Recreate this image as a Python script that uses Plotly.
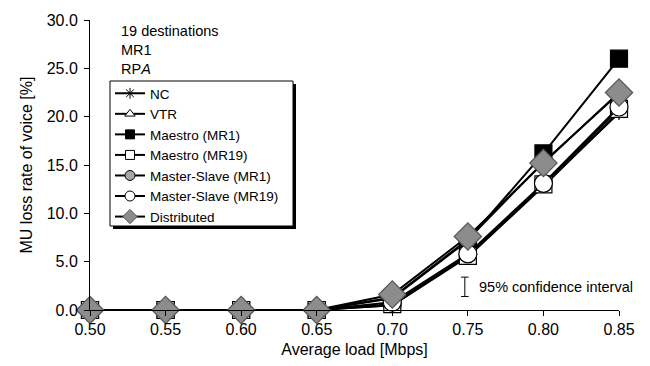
import plotly.graph_objects as go

load = [0.50, 0.55, 0.60, 0.65, 0.70, 0.75, 0.80, 0.85]
nc = [0, 0, 0, 0, 0.5, 5.6, 12.9, 20.4]
vtr = [0, 0, 0, 0, 0.5, 5.5, 12.8, 20.5]
maestro_mr1 = [0, 0, 0, 0, 1.2, 7.2, 16.2, 26.0]
maestro_mr19 = [0, 0, 0, 0, 0.6, 5.6, 13.0, 20.8]
ms_mr1 = [0, 0, 0, 0, 1.3, 7.3, 15.3, 22.4]
ms_mr19 = [0, 0, 0, 0, 0.8, 5.8, 13.1, 21.0]
distributed = [0, 0, 0, 0, 1.6, 7.6, 15.2, 22.5]

x_ticks = [0.50, 0.55, 0.60, 0.65, 0.70, 0.75, 0.80, 0.85]
y_ticks = [0, 5, 10, 15, 20, 25, 30]

FONT = "Liberation Sans, Arial, sans-serif"

# name, values, symbol, fill, edge, plot size, legend size
series = [
    ("NC", nc, "asterisk-open", "black", "black", 12, 9),
    ("VTR", vtr, "triangle-up", "white", "black", 14, 9),
    ("Maestro (MR1)", maestro_mr1, "square", "black", "black", 17, 9),
    ("Maestro (MR19)", maestro_mr19, "square", "white", "black", 17, 9),
    ("Master-Slave (MR1)", ms_mr1, "circle", "#a6a6a6", "black", 18, 10),
    ("Master-Slave (MR19)", ms_mr19, "circle", "white", "black", 18, 10),
    ("Distributed", distributed, "diamond", "#8c8c8c", "#555555", 21, 11),
]

fig = go.Figure()
for name, vals, sym, fill, edge, size, lsize in series:
    fig.add_trace(go.Scatter(
        x=load, y=vals, name=name, mode="lines+markers", showlegend=False,
        line=dict(color="black", width=2),
        marker=dict(symbol=sym, size=size, color=fill, line=dict(color=edge, width=1.2)),
        cliponaxis=False,
    ))
for name, vals, sym, fill, edge, size, lsize in series:
    fig.add_trace(go.Scatter(
        x=[None], y=[None], name=name, mode="lines+markers", showlegend=True,
        line=dict(color="black", width=2),
        marker=dict(symbol=sym, size=lsize, color=fill, line=dict(color=edge, width=1)),
    ))


def px_x(p):
    return (p - 90) / 529


def px_y(p):
    return (310 - p) / 290


fig.update_layout(
    width=650, height=366,
    margin=dict(l=90, r=31, t=20, b=56),
    paper_bgcolor="white", plot_bgcolor="white",
    font=dict(family=FONT, color="black", size=16),
    legend=dict(
        x=px_x(110), y=px_y(78), xanchor="left", yanchor="top",
        bgcolor="rgba(0,0,0,0)", borderwidth=0,
        font=dict(size=13.5, family=FONT), tracegroupgap=0,
        itemwidth=30,
    ),
    xaxis=dict(
        range=[0.5, 0.85], tickvals=x_ticks, tickformat=".2f",
        showgrid=False, zeroline=False, showline=True, linecolor="black", linewidth=1,
        ticks="outside", ticklen=5, tickcolor="black",
        title=dict(text="Average load [Mbps]", font=dict(size=16), standoff=6),
        tickfont=dict(size=16),
    ),
    yaxis=dict(
        range=[0, 30], tickvals=y_ticks, tickformat=".1f",
        showgrid=False, zeroline=False, showline=True, linecolor="black", linewidth=1,
        ticks="outside", ticklen=5, tickcolor="black", ticklabelstandoff=3,
        title=dict(text="MU loss rate of voice [%]", font=dict(size=16), standoff=10),
        tickfont=dict(size=16),
    ),
    showlegend=True,
)

# legend frame with drop shadow
fig.add_shape(type="rect", xref="paper", yref="paper",
              x0=px_x(113), x1=px_x(296), y0=px_y(229), y1=px_y(84),
              fillcolor="black", line=dict(width=0), layer="above")
fig.add_shape(type="rect", xref="paper", yref="paper",
              x0=px_x(110), x1=px_x(293), y0=px_y(226), y1=px_y(81),
              fillcolor="white", line=dict(color="black", width=1), layer="above")

# info text
fig.add_annotation(xref="paper", yref="paper", x=0.055, y=0.995, xanchor="left", yanchor="top",
                   text="19 destinations<br>MR1<br>RP<i>A</i>", showarrow=False, align="left",
                   font=dict(size=14.5, family=FONT))

# confidence interval marker
ci_x = 0.748
fig.add_shape(type="line", x0=ci_x, x1=ci_x, y0=1.4, y1=3.4, line=dict(color="black", width=1))
fig.add_shape(type="line", x0=ci_x - 0.0025, x1=ci_x + 0.0025, y0=3.4, y1=3.4, line=dict(color="black", width=1))
fig.add_shape(type="line", x0=ci_x - 0.0025, x1=ci_x + 0.0025, y0=1.4, y1=1.4, line=dict(color="black", width=1))
fig.add_annotation(x=0.756, y=2.4, xanchor="left", yanchor="middle", text="95% confidence interval",
                   showarrow=False, font=dict(size=14.5, family=FONT))

fig.write_html("out.html")
